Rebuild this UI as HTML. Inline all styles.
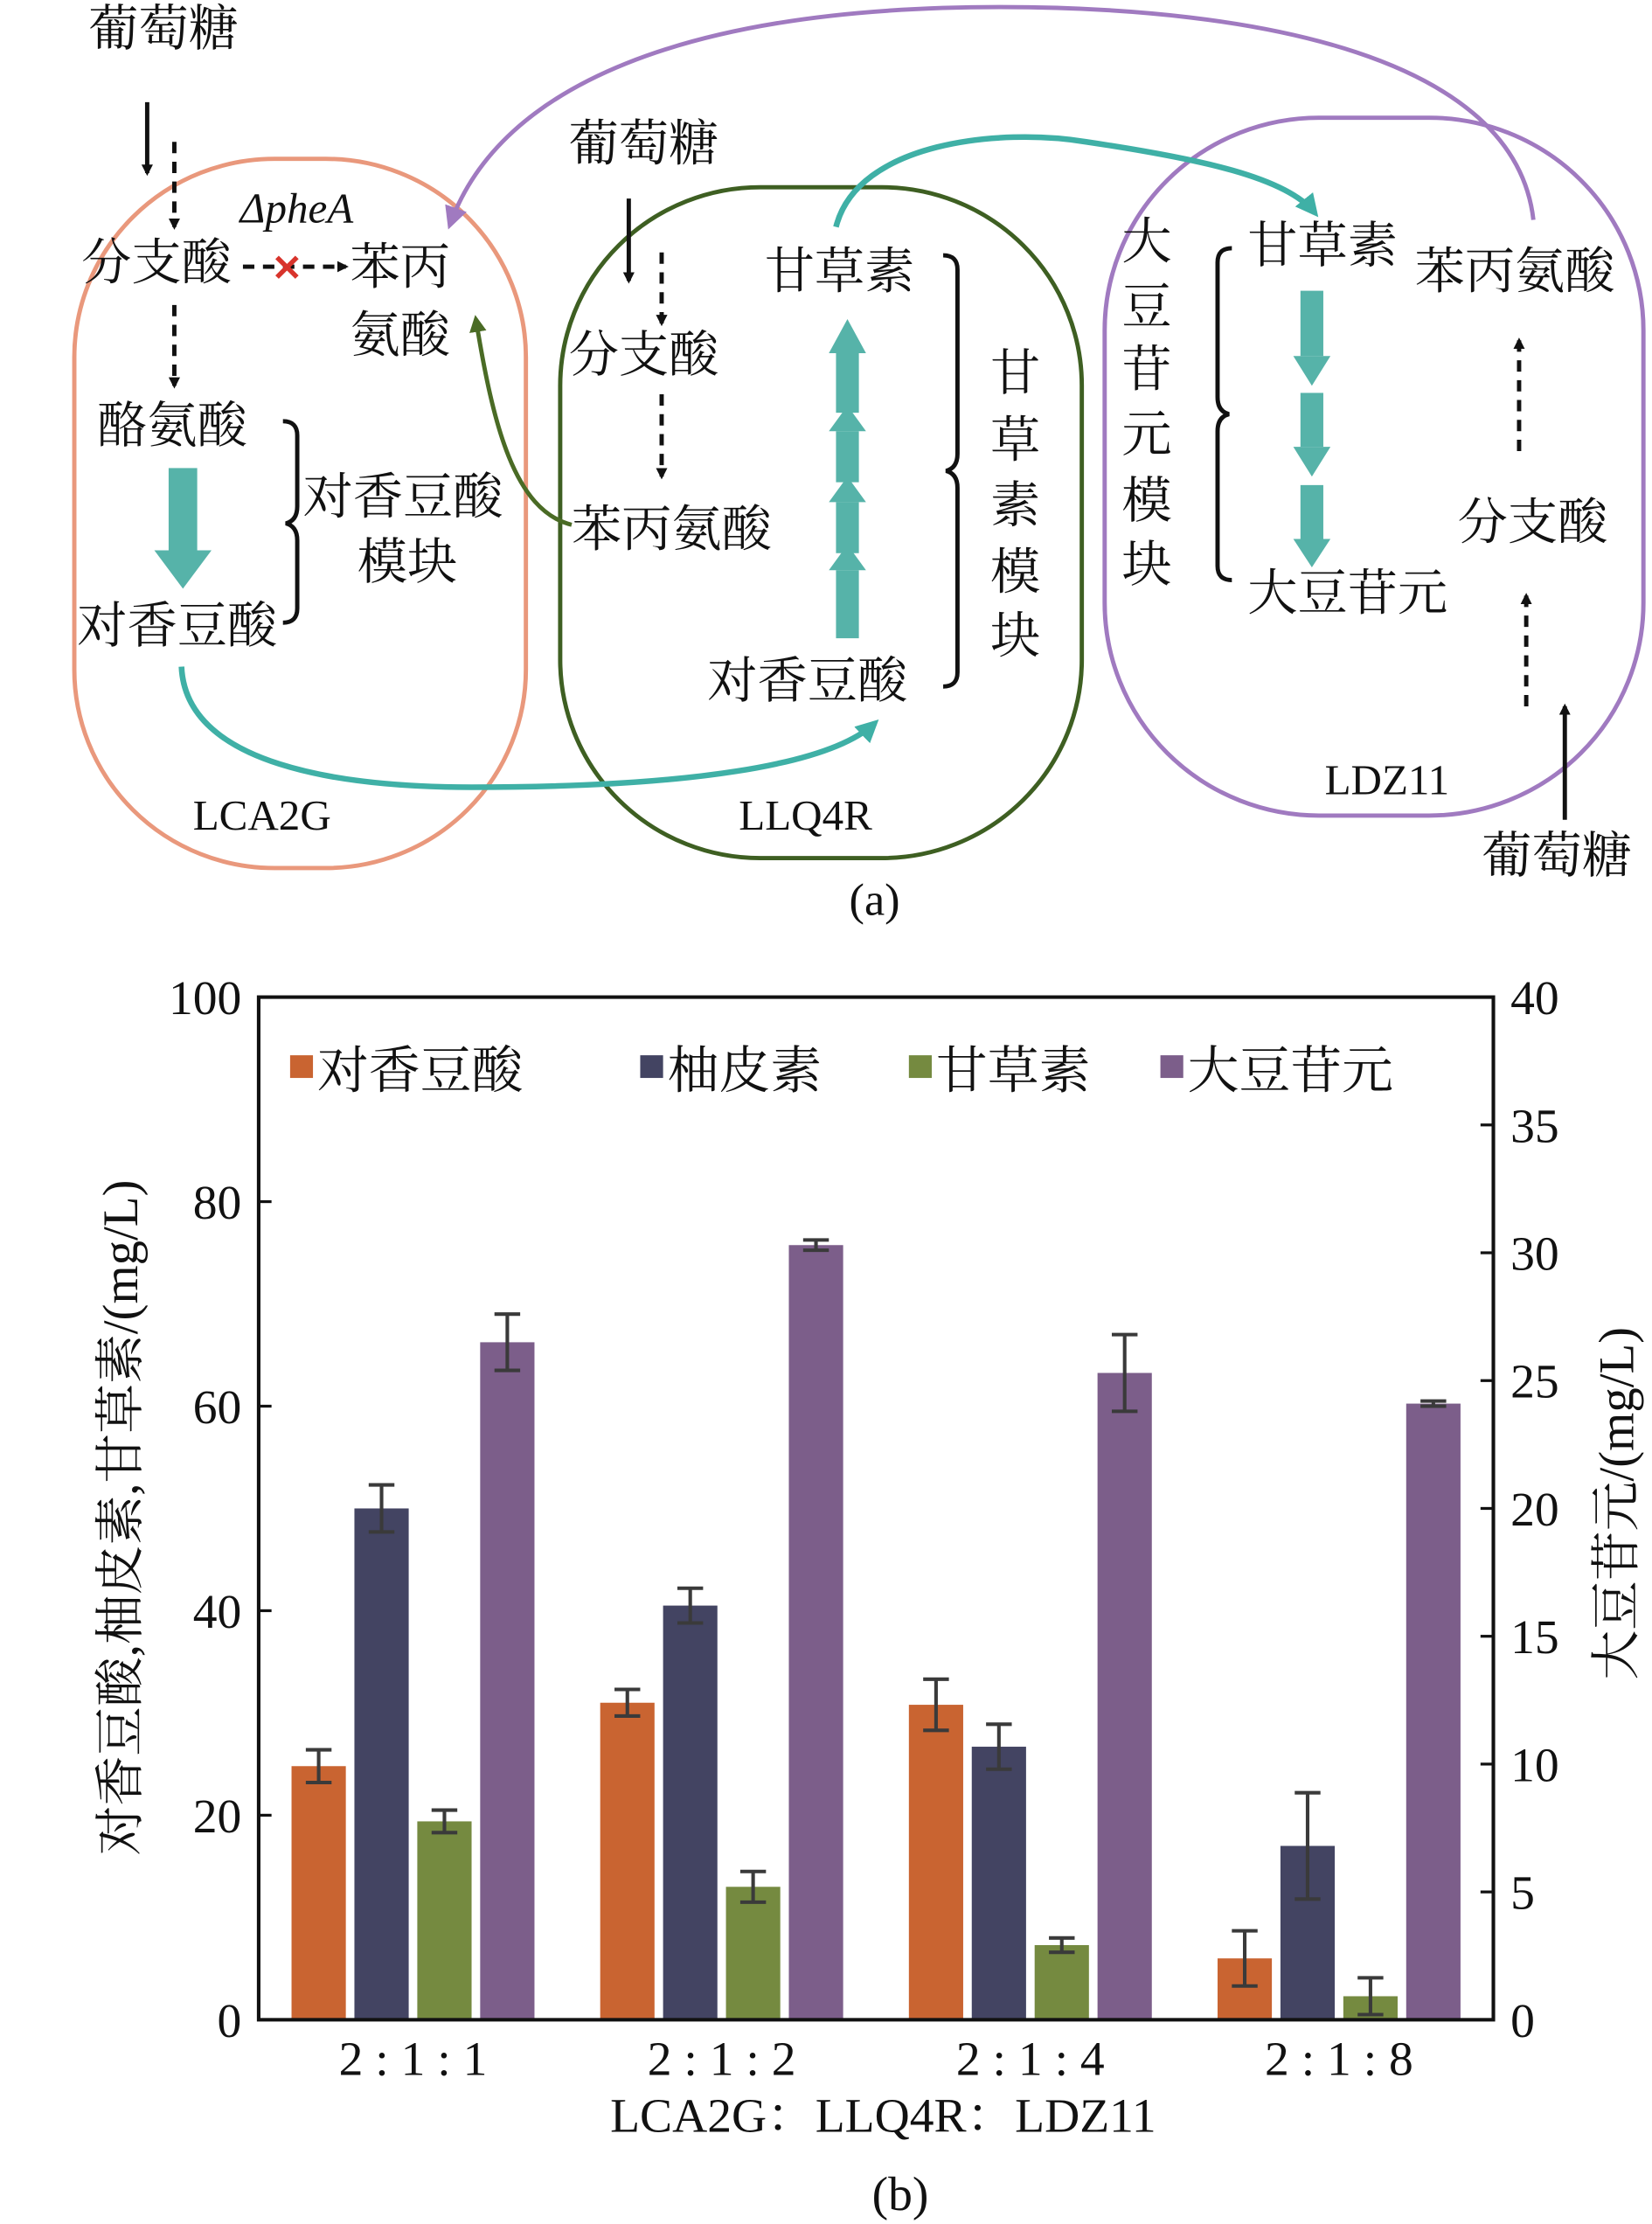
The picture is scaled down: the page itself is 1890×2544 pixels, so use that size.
<!DOCTYPE html>
<html><head><meta charset="utf-8"><style>
html,body{margin:0;padding:0;background:#fff;}
svg{display:block;}
text{font-family:"Liberation Serif","Noto Serif CJK SC","Noto Sans CJK SC",serif;fill:#111;}
</style></head><body>
<svg id="fig" width="1890" height="2544" viewBox="0 0 1156 1568" preserveAspectRatio="none" xmlns="http://www.w3.org/2000/svg">
<defs>
<marker id="ab" markerWidth="8" markerHeight="8" refX="6" refY="4" orient="auto" markerUnits="userSpaceOnUse"><path d="M0,0 L8,4 L0,8 z" fill="#111"/></marker>
<marker id="at" markerWidth="16" markerHeight="16" refX="12" refY="8" orient="auto" markerUnits="userSpaceOnUse"><path d="M0,0 L16,8 L0,16 z" fill="#3fb0a6"/></marker>
<marker id="ag" markerWidth="12" markerHeight="12" refX="9" refY="6" orient="auto" markerUnits="userSpaceOnUse"><path d="M0,0 L12,6 L0,12 z" fill="#4a6b25"/></marker>
<marker id="ap" markerWidth="16" markerHeight="16" refX="12" refY="8" orient="auto" markerUnits="userSpaceOnUse"><path d="M0,0 L16,8 L0,16 z" fill="#a07ac0"/></marker>
</defs>
<g>
<rect x="52" y="112" width="316" height="500" rx="140" fill="none" stroke="#e9987c" stroke-width="3"/>
<rect x="392" y="132" width="365" height="473" rx="140" fill="none" stroke="#3e5f22" stroke-width="3"/>
<rect x="773" y="83" width="377" height="492" rx="150" fill="none" stroke="#a07ac0" stroke-width="3"/>
<path d="M1073,155 C1060,40 880,5 700,5 C480,5 350,60 315,158" fill="none" stroke="#a07ac0" stroke-width="3" marker-end="url(#ap)"/>
<path d="M585,160 C600,100 700,90 760,100 C840,112 900,125 920,150" fill="none" stroke="#3fb0a6" stroke-width="4" marker-end="url(#at)"/>
<path d="M127,470 C130,540 240,555 330,555 C480,555 580,540 612,510" fill="none" stroke="#3fb0a6" stroke-width="4" marker-end="url(#at)"/>
<path d="M400,370 C360,360 345,300 333,225" fill="none" stroke="#4a6b25" stroke-width="3" marker-end="url(#ag)"/>
<g stroke="#111" stroke-width="3" fill="none">
<line x1="103" y1="72" x2="103" y2="122" marker-end="url(#ab)"/>
<line x1="122" y1="100" x2="122" y2="160" stroke-dasharray="8,6" marker-end="url(#ab)"/>
<line x1="122" y1="215" x2="122" y2="272" stroke-dasharray="8,6" marker-end="url(#ab)"/>
<line x1="170" y1="188" x2="242" y2="188" stroke-dasharray="8,6" marker-end="url(#ab)"/>
<line x1="440" y1="140" x2="440" y2="198" marker-end="url(#ab)"/>
<line x1="463" y1="178" x2="463" y2="228" stroke-dasharray="8,6" marker-end="url(#ab)"/>
<line x1="463" y1="278" x2="463" y2="336" stroke-dasharray="8,6" marker-end="url(#ab)"/>
<line x1="1063" y1="318" x2="1063" y2="240" stroke-dasharray="8,6" marker-end="url(#ab)"/>
<line x1="1068" y1="498" x2="1068" y2="420" stroke-dasharray="8,6" marker-end="url(#ab)"/>
<line x1="1095" y1="578" x2="1095" y2="498" marker-end="url(#ab)"/>
<path d="M198,297 q10,0 10,10 v50 q0,10 -8,12 q8,2 8,12 v48 q0,10 -10,10"/>
<path d="M660,180 q10,0 10,10 v130 q0,10 -8,12 q8,2 8,12 v130 q0,10 -10,10"/>
<path d="M862,175 q-10,0 -10,10 v95 q0,10 8,12 q-8,2 -8,12 v95 q0,10 10,10"/>
</g>
<text x="190" y="198" font-size="26" font-weight="bold" style="fill:#d8342c">✕</text>
<g fill="#56b3a9">
<rect x="118" y="330" width="20" height="60"/><path d="M108,388 L148,388 L128,415 z"/>
<rect x="585" y="402" width="16" height="48"/><path d="M580,402 L606,402 L593,384 z"/>
<rect x="585" y="354" width="16" height="36"/><path d="M580,354 L606,354 L593,336 z"/>
<rect x="585" y="304" width="16" height="36"/><path d="M580,304 L606,304 L593,286 z"/>
<rect x="585" y="249" width="16" height="42"/><path d="M580,249 L606,249 L593,225 z"/>
<rect x="910" y="205" width="16" height="46"/><path d="M905,251 L931,251 L918,272 z"/>
<rect x="910" y="277" width="16" height="38"/><path d="M905,315 L931,315 L918,336 z"/>
<rect x="910" y="342" width="16" height="38"/><path d="M905,380 L931,380 L918,400 z"/>
</g>
<g font-size="35">
<text x="62" y="32">葡萄糖</text>
<text x="168" y="157" font-size="30" font-style="italic">Δ<tspan>pheA</tspan></text>
<text x="57" y="197">分支酸</text>
<text x="245" y="200">苯丙</text>
<text x="245" y="248">氨酸</text>
<text x="68" y="312">酪氨酸</text>
<text x="212" y="362">对香豆酸</text>
<text x="250" y="408">模块</text>
<text x="54" y="453">对香豆酸</text>
<text x="135" y="585" font-size="30">LCA2G</text>
<text x="398" y="113">葡萄糖</text>
<text x="398" y="262">分支酸</text>
<text x="400" y="385">苯丙氨酸</text>
<text x="535" y="203">甘草素</text>
<text x="495" y="492">对香豆酸</text>
<text x="693" y="275">甘</text><text x="693" y="322">草</text><text x="693" y="368">素</text><text x="693" y="415">模</text><text x="693" y="460">块</text>
<text x="517" y="585" font-size="30">LLQ4R</text>
<text x="785" y="182">大</text><text x="785" y="228">豆</text><text x="785" y="272">苷</text><text x="785" y="318">元</text><text x="785" y="365">模</text><text x="785" y="410">块</text>
<text x="873" y="185">甘草素</text>
<text x="990" y="203">苯丙氨酸</text>
<text x="873" y="430">大豆苷元</text>
<text x="1020" y="380">分支酸</text>
<text x="927" y="560" font-size="30">LDZ11</text>
<text x="1037" y="615">葡萄糖</text>
<text x="612" y="645" text-anchor="middle" font-size="32">(a)</text>
</g>
</g>
<g id="chart"></g>
</svg>
<script>
const categories=["2 : 1 : 1","2 : 1 : 2","2 : 1 : 4","2 : 1 : 8"];
const seriesNames=["对香豆酸","柚皮素","甘草素","大豆苷元"];
const coumaric=[24.8,31,30.8,6];
const coumaricErr=[1.6,1.3,2.5,2.7];
const naringenin=[50,40.5,26.7,17];
const naringeninErr=[2.3,1.7,2.2,5.2];
const liquiritigenin=[19.4,13,7.3,2.3];
const liquiritigeninErr=[1.1,1.5,0.7,1.8];
const daidzein=[26.5,30.3,25.3,24.1];
const daidzeinErr=[1.1,0.2,1.5,0.1];
const leftTicks=[0,20,40,60,80,100];
const rightTicks=[0,5,10,15,20,25,30,35,40];

const NS="http://www.w3.org/2000/svg";
const g=document.getElementById('chart');
const L=181,R=1045,T=703,B=1424;
const yL=v=>B-(v/100)*(B-T);
const yR=v=>B-(v/40)*(B-T);
const groupW=(R-L)/4;
const xG=i=>L+groupW*(i+0.5);
function el(t,a,p){const e=document.createElementNS(NS,t);for(const k in a)e.setAttribute(k,a[k]);(p||g).appendChild(e);return e;}
const colors=["#c96431","#434462","#758a40","#7c5e8a"];
const vals=[coumaric,naringenin,liquiritigenin,daidzein];
const errs=[coumaricErr,naringeninErr,liquiritigeninErr,daidzeinErr];
const bw=38,gap=6;
categories.forEach((c,i)=>{
  for(let s=0;s<4;s++){
    const sc=s===3?yR:yL;
    const x=xG(i)-(2*bw+1.5*gap)+s*(bw+gap);
    const y=sc(vals[s][i]);
    const r=el('rect',{x:x,y:y,width:bw,height:B-y,fill:colors[s]});
    
    
    const cx=x+bw/2,y1=sc(vals[s][i]+errs[s][i]),y2=sc(vals[s][i]-errs[s][i]);
    const e=el('path',{d:`M${cx},${y1}V${y2}M${cx-9},${y1}h18M${cx-9},${y2}h18`,stroke:'#3a3a3a','stroke-width':2.5,fill:'none'});
    
    
  }
  const t=el('text',{x:xG(i),y:1463,'text-anchor':'middle','font-size':34});
  t.textContent=c;
  
  
});
const frame=el('rect',{x:L,y:T,width:R-L,height:B-T,fill:'none',stroke:'#111','stroke-width':2.5});


leftTicks.forEach(v=>{
  el('line',{x1:L,x2:L+9,y1:yL(v),y2:yL(v),stroke:'#111','stroke-width':2});
  const t=el('text',{x:L-12,y:yL(v)+12,'text-anchor':'end','font-size':34});
  t.textContent=v;
  
  
});
rightTicks.forEach(v=>{
  el('line',{x1:R-9,x2:R,y1:yR(v),y2:yR(v),stroke:'#111','stroke-width':2});
  const t=el('text',{x:R+12,y:yR(v)+12,'font-size':34});
  t.textContent=v;
  
  
});
const legX=[203,448,636,812];
seriesNames.forEach((n,s)=>{
  const sq=el('rect',{x:legX[s],y:744,width:16,height:16,fill:colors[s]});
  
  
  const t=el('text',{x:legX[s]+19,y:767,'font-size':36});
  t.textContent=n;
  
  
});
const yt=el('text',{transform:'translate(96,1070) rotate(-90)','text-anchor':'middle','font-size':35});
yt.textContent='对香豆酸,柚皮素,甘草素/(mg/L)';


const yt2=el('text',{transform:'translate(1143,1060) rotate(-90)','text-anchor':'middle','font-size':35});
yt2.textContent='大豆苷元/(mg/L)';


const xt=el('text',{x:618,y:1503,'text-anchor':'middle','font-size':34,'font-family':'"Liberation Sans","Noto Sans CJK SC",sans-serif'});
xt.textContent='LCA2G：LLQ4R：LDZ11';


const cap=el('text',{x:630,y:1558,'text-anchor':'middle','font-size':34});
cap.textContent='(b)';


</script>
</body></html>
